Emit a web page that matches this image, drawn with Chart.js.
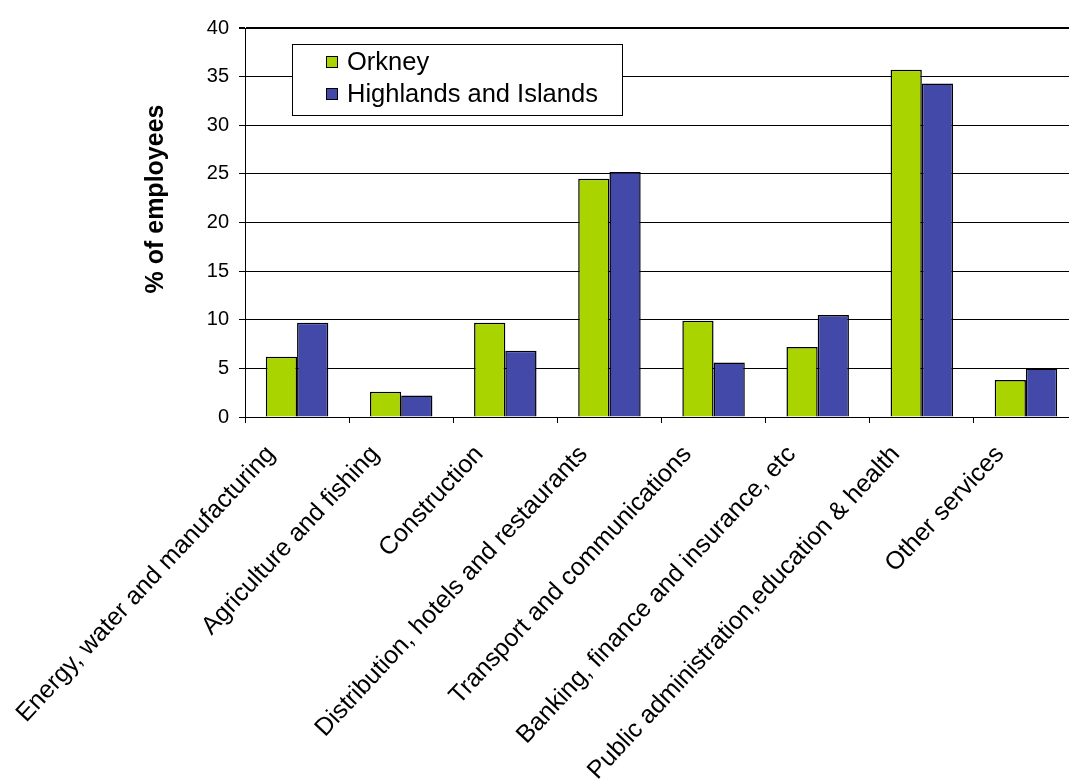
<!DOCTYPE html>
<html lang="en">
<head>
  <meta charset="UTF-8">
  <title>Employees by sector</title>
  <script src="https://cdn.jsdelivr.net/npm/chart.js"></script>
  <style>
    html, body { margin: 0; padding: 0; background: #fff; overflow: hidden; }
    #chart { display: block; }
  </style>
</head>
<body>
  <canvas id="chart" width="1080" height="783"></canvas>
  <script>
    const categories = [
      'Energy, water and manufacturing',
      'Agriculture and fishing',
      'Construction',
      'Distribution, hotels and restaurants',
      'Transport and communications',
      'Banking, finance and insurance, etc',
      'Public administration,education & health',
      'Other services'
    ];
    const orkney = [6.2, 2.6, 9.7, 24.5, 9.9, 7.2, 35.7, 3.8];
    const highlands = [9.7, 2.2, 6.8, 25.2, 5.6, 10.5, 34.3, 5.0];
    const seriesNames = ['Orkney', 'Highlands and Islands'];
    const yTitle = '% of employees';

    const FONT = '"Liberation Sans", Arial, sans-serif';

    // legend box and axis title drawn by hand to sit where the original has them
    const extras = {
      id: 'extras',
      afterDraw(chart) {
        const ctx = chart.ctx;
        ctx.save();
        ctx.fillStyle = '#fff';
        ctx.fillRect(292, 44, 331, 72);
        ctx.strokeStyle = '#000';
        ctx.lineWidth = 1;
        ctx.strokeRect(292.5, 44.5, 330, 71);
        ctx.font = '25.5px ' + FONT;
        ctx.textBaseline = 'middle';
        chart.data.datasets.forEach((ds, i) => {
          const cy = 62 + i * 32;
          ctx.fillStyle = ds.backgroundColor;
          ctx.fillRect(326, cy - 6, 12, 12);
          ctx.strokeRect(326.5, cy - 5.5, 11, 11);
          ctx.fillStyle = '#000';
          ctx.fillText(ds.label, 347, cy + 1);
        });
        ctx.translate(156, 199);
        ctx.rotate(-Math.PI / 2);
        ctx.textAlign = 'center';
        ctx.font = 'bold 25px ' + FONT;
        ctx.fillText(yTitle, 0, 0);
        ctx.restore();
      }
    };

    new Chart(document.getElementById('chart'), {
      type: 'bar',
      data: {
        labels: categories,
        datasets: [
          { label: seriesNames[0], data: orkney, backgroundColor: '#AAD400', borderColor: '#000', borderWidth: 1.5 },
          { label: seriesNames[1], data: highlands, backgroundColor: '#4349A8', borderColor: '#000', borderWidth: 1.5 }
        ]
      },
      options: {
        responsive: false,
        animation: false,
        layout: { padding: { top: 28, right: 2, left: 0, bottom: 0 } },
        datasets: { bar: { categoryPercentage: 0.6, barPercentage: 1.0 } },
        plugins: { legend: { display: false }, tooltip: { enabled: false } },
        scales: {
          x: {
            afterFit(scale) { scale.height = 366; },
            grid: { drawOnChartArea: false, color: '#000', tickLength: 6, offset: true },
            border: { color: '#000', width: 1 },
            ticks: {
              color: '#000',
              font: { family: FONT, size: 25 },
              minRotation: 47,
              maxRotation: 47,
              padding: 17,
              labelOffset: -26
            }
          },
          y: {
            min: 0,
            max: 40,
            afterFit(scale) { scale.width = 245; },
            grid: {
              color: '#000',
              lineWidth: c => c.tick && c.tick.value === 40 ? 2 : 1,
              tickLength: 6
            },
            border: { color: '#000', width: 1 },
            ticks: {
              stepSize: 5,
              color: '#000',
              font: { family: FONT, size: 20 },
              padding: 10
            }
          }
        }
      },
      plugins: [extras]
    });
  </script>
</body>
</html>
